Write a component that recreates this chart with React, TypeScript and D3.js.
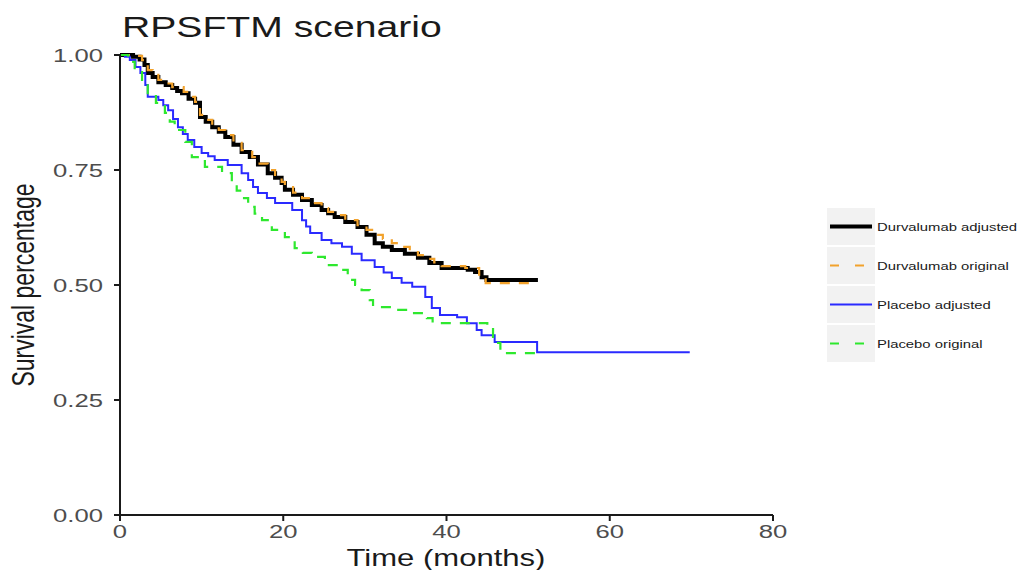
import React from 'react';
import { scaleLinear, line, curveStepAfter } from 'd3';

// readings: [months, survival]
const durvAdjusted: [number, number][] = [
  [0, 1], [1.6, 0.996], [2.4, 0.99], [3.0, 0.978], [3.4, 0.961], [4.0, 0.952], [4.7, 0.941],
  [5.6, 0.935], [6.4, 0.928], [7.0, 0.922], [7.6, 0.917], [8.4, 0.905], [9.2, 0.896],
  [9.8, 0.865], [10.5, 0.855], [11.3, 0.843], [12.1, 0.833], [12.9, 0.822], [13.9, 0.805],
  [14.9, 0.789], [15.9, 0.778], [16.9, 0.762], [18.1, 0.743], [19.0, 0.733], [19.8, 0.722],
  [20.2, 0.707], [21.2, 0.696], [22.3, 0.685], [23.5, 0.674], [24.7, 0.663], [25.5, 0.656],
  [26.3, 0.648], [27.6, 0.637], [29.1, 0.626], [30.2, 0.609], [31.2, 0.591], [32.2, 0.583],
  [33.3, 0.576], [34.9, 0.568], [36.5, 0.559], [37.9, 0.548], [39.4, 0.537], [42.6, 0.533],
  [43.5, 0.528], [44.3, 0.517], [44.9, 0.511], [51.2, 0.511],
];

const durvOriginal: [number, number][] = [
  [0, 1], [1.5, 0.998], [2.7, 0.989], [3.4, 0.967], [4.0, 0.957], [4.7, 0.946], [5.6, 0.938],
  [6.4, 0.93], [7.8, 0.92], [8.5, 0.909], [9.2, 0.898], [9.8, 0.87], [10.5, 0.859],
  [11.3, 0.848], [12.1, 0.837], [12.9, 0.826], [13.9, 0.809], [14.9, 0.793], [16.2, 0.778],
  [17.1, 0.764], [18.1, 0.75], [19.0, 0.737], [19.8, 0.724], [20.2, 0.713], [21.2, 0.701],
  [22.3, 0.689], [23.5, 0.678], [24.7, 0.667], [25.5, 0.659], [26.3, 0.652], [27.6, 0.641],
  [29.1, 0.63], [30.2, 0.62], [31.2, 0.609], [32.2, 0.6], [33.3, 0.591], [34.4, 0.583],
  [35.5, 0.574], [36.5, 0.565], [37.6, 0.557], [38.5, 0.549], [39.4, 0.541], [42.3, 0.537],
  [44.0, 0.517], [44.8, 0.504], [51.0, 0.504],
];

const placeboAdjusted: [number, number][] = [
  [0, 1], [0.6, 0.996], [1.2, 0.989], [1.9, 0.974], [2.5, 0.961], [3.1, 0.935], [3.4, 0.909],
  [4.7, 0.902], [5.3, 0.891], [5.9, 0.88], [6.5, 0.861], [7.1, 0.843], [7.7, 0.828],
  [8.3, 0.815], [9.1, 0.8], [10.0, 0.787], [10.8, 0.78], [11.6, 0.772], [13.2, 0.761],
  [14.9, 0.743], [15.7, 0.728], [16.3, 0.713], [16.9, 0.7], [18.0, 0.689], [19.0, 0.678],
  [21.1, 0.663], [22.3, 0.641], [22.8, 0.627], [23.3, 0.613], [24.7, 0.598], [25.9, 0.591],
  [27.2, 0.583], [28.4, 0.568], [29.6, 0.554], [31.2, 0.539], [32.3, 0.527], [33.3, 0.515],
  [34.5, 0.505], [35.8, 0.496], [37.4, 0.474], [38.2, 0.45], [39.2, 0.435], [41.3, 0.43],
  [42.5, 0.417], [43.7, 0.402], [44.3, 0.391], [45.9, 0.376], [51.1, 0.354], [69.8, 0.354],
];

const placeboOriginal: [number, number][] = [
  [0, 1], [1.0, 0.985], [1.8, 0.967], [2.7, 0.946], [3.4, 0.917], [4.4, 0.896], [5.5, 0.874],
  [6.1, 0.855], [6.7, 0.837], [8.0, 0.811], [8.8, 0.778], [10.4, 0.757], [12.5, 0.743],
  [13.7, 0.722], [14.3, 0.705], [14.9, 0.689], [15.7, 0.67], [16.5, 0.655], [17.4, 0.641],
  [18.6, 0.62], [20.2, 0.604], [21.4, 0.58], [22.4, 0.57], [23.5, 0.561], [25.1, 0.543],
  [27.0, 0.533], [27.9, 0.511], [28.8, 0.5], [29.6, 0.489], [30.6, 0.467], [31.0, 0.452],
  [33.4, 0.446], [35.5, 0.439], [37.6, 0.428], [38.3, 0.417], [43.7, 0.417], [45.0, 0.407],
  [45.7, 0.374], [46.6, 0.352], [51.1, 0.352],
];

const xTicks = [0, 20, 40, 60, 80];
const yTicks = [0, 0.25, 0.5, 0.75, 1];
const legendLabels = ['Durvalumab adjusted', 'Durvalumab original', 'Placebo adjusted', 'Placebo original'];

const series = [
  { data: durvAdjusted, color: '#000000', width: 4, dash: '' },
  { data: durvOriginal, color: '#f2a22c', width: 2.2, dash: '10,9' },
  { data: placeboAdjusted, color: '#2a2aff', width: 2, dash: '' },
  { data: placeboOriginal, color: '#2ee82e', width: 2.2, dash: '10,9' },
];

const FONT = "'Liberation Sans', Arial, Helvetica, sans-serif";
const SX = 1.35; // the picture is stretched sideways

const App = () => {
  const x = scaleLinear().domain([0, 80]).range([120, 773]);
  const y = scaleLinear().domain([0, 1]).range([515, 55]);
  const path = line<[number, number]>()
    .x(d => x(d[0]))
    .y(d => y(d[1]))
    .curve(curveStepAfter);

  return (
    <svg width={1019} height={570} style={{ position: 'absolute', left: 0, top: 0, background: '#fff' }} fontFamily={FONT}>
      <text transform={`translate(122,37) scale(${SX},1)`} fontSize={29} fill="#1a1a1a">RPSFTM scenario</text>

      {series.map((s, i) => (
        <path key={i} d={path(s.data) || ''} fill="none" stroke={s.color} strokeWidth={s.width}
          strokeDasharray={s.dash || undefined} strokeLinejoin="miter" />
      ))}

      {/* axes */}
      <line x1={120} x2={120} y1={y(1) - 1} y2={y(0)} stroke="#1a1a1a" strokeWidth={2} />
      <line x1={119} x2={x(80)} y1={y(0)} y2={y(0)} stroke="#1a1a1a" strokeWidth={2} />
      {yTicks.map(t => (
        <g key={t}>
          <line x1={114} x2={120} y1={y(t)} y2={y(t)} stroke="#1a1a1a" strokeWidth={2} />
          <text transform={`translate(103,${y(t) + 7}) scale(${SX},1)`} textAnchor="end" fontSize={19} fill="#4d4d4d">
            {t.toFixed(2)}
          </text>
        </g>
      ))}
      {xTicks.map(t => (
        <g key={t}>
          <line x1={x(t)} x2={x(t)} y1={515} y2={521} stroke="#1a1a1a" strokeWidth={2} />
          <text transform={`translate(${x(t)},538) scale(${SX},1)`} textAnchor="middle" fontSize={19} fill="#4d4d4d">
            {t}
          </text>
        </g>
      ))}
      <text transform={`translate(446,566) scale(${SX},1)`} textAnchor="middle" fontSize={23} fill="#1a1a1a">Time (months)</text>
      <text transform={`translate(34,285) scale(${SX},1) rotate(-90)`} textAnchor="middle" fontSize={23} fill="#1a1a1a">Survival percentage</text>

      {/* legend */}
      {series.map((s, i) => {
        const top = 208 + i * 39;
        const cy = top + 18.5;
        return (
          <g key={i}>
            <rect x={827} y={top} width={48} height={37} fill="#f2f2f2" />
            <line x1={830} x2={872} y1={cy} y2={cy} stroke={s.color} strokeWidth={s.width}
              strokeDasharray={s.dash ? '9,16' : undefined} />
            <text transform={`translate(877,${cy + 4}) scale(${SX},1)`} fontSize={11} fill="#1a1a1a">{legendLabels[i]}</text>
          </g>
        );
      })}
    </svg>
  );
};

export default App;
